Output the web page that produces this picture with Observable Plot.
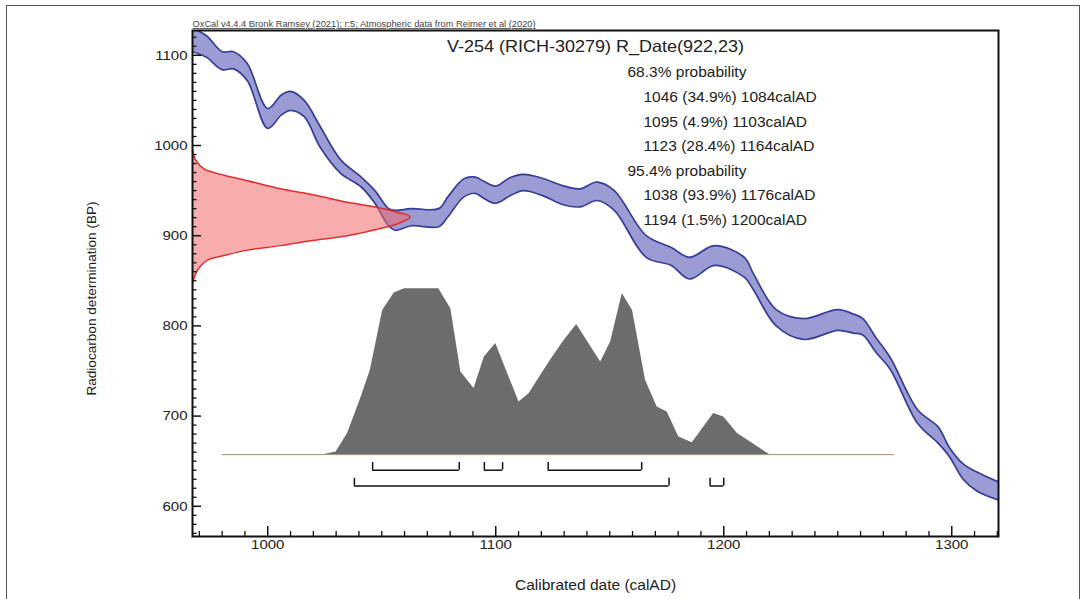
<!DOCTYPE html>
<html><head><meta charset="utf-8">
<script src="https://cdn.jsdelivr.net/npm/d3@7"></script>
<script src="https://cdn.jsdelivr.net/npm/@observablehq/plot@0.6"></script>
<style>
body{margin:0;background:#fff;}
#wrap{position:relative;width:1080px;height:599px;overflow:hidden;background:#fff;}
#border{position:absolute;left:6px;top:5px;width:1074px;height:640px;border:1px solid #555;box-sizing:border-box;}
#wrap svg{position:absolute;left:0;top:0;}
</style></head><body><div id="wrap"><div id="border"></div></div>
<script>
// Calibration curve band (IntCal20)
const curveYear = [967,973,980,985,991,1000,1006,1010,1016,1023,1032,1041,1047,1053,1056,1063,1075,1079,1086,1091,1095,1100,1106,1112,1120,1130,1137,1144.5,1152,1166,1177,1185,1196,1209,1213,1223,1235,1250,1257,1261,1267,1273,1285,1294,1299,1305,1311,1320.5];
const curveUpper = [1130,1122,1104,1104,1091,1041,1056,1060,1050,1021,984,965,950,930,928,930,930,943,963,965,960,955,964,968,964,955,952,959.5,950,900,887,876,889,876,858,818,808,818,813,808,786,765,707,688,665,647,638,627];
const curveLower = [1104,1098,1084,1085,1072,1019,1034,1039,1032,998,969,954,936,911,906,911,910,921,943,947,941,936,944,950,945,934,932,939,928,876,867,852,867,854,840,800,785,795,792,790,770,752,692,670,655,630,617,607];

// Radiocarbon measurement likelihood (relative), along the BP axis
const likeBP  = [995,984,974,967,961,952,945,937,932,926,921,913,908,900,895,889,884,878,873,862,847];
const likeRel = [0,0.014,0.053,0.145,0.252,0.404,0.558,0.711,0.833,0.940,1,0.940,0.862,0.711,0.558,0.404,0.252,0.145,0.069,0.023,0];

// Calibrated distribution (relative probability)
const postYear = [1025,1030,1035,1041,1045,1050.4,1055.5,1060,1075,1080.3,1084.7,1090.5,1095,1100,1110.2,1114.6,1124,1130,1135.5,1146,1150.4,1155.5,1160,1165.7,1170.8,1175.2,1180.3,1186.2,1195.6,1200,1206,1211.7,1220];
const postRel  = [0,0.016,0.127,0.347,0.508,0.869,0.973,1,1,0.879,0.498,0.398,0.588,0.669,0.317,0.367,0.568,0.688,0.784,0.558,0.678,0.970,0.869,0.448,0.287,0.256,0.106,0.072,0.247,0.227,0.127,0.076,0];
const postRange = [980, 1275];

// Ranges [from, to, percent]
const ranges68 = [[1046,1084,34.9],[1095,1103,4.9],[1123,1164,28.4]];
const ranges95 = [[1038,1176,93.9],[1194,1200,1.5]];

const xTicks = [1000,1100,1200,1300];
const yTicks = [600,700,800,900,1000,1100];

const titleText = "V-254 (RICH-30279) R_Date(922,23)";
const headerText = "OxCal v4.4.4 Bronk Ramsey (2021); r:5; Atmospheric data from Reimer et al (2020)";
const xLabel = "Calibrated date (calAD)";
const yLabel = "Radiocarbon determination (BP)";

// ---- build tables
const xDomain = [967, 1320.5];
const yDomain = [566.5, 1127.5];
const curve = curveYear.map((x,i)=>({x, hi:curveUpper[i], lo:curveLower[i]}));
const redW = 95.5;      // horizontal extent of the likelihood (years)
const like = likeBP.map((y,i)=>({y, w: xDomain[0] + likeRel[i]*redW}));
const postBase = 657.3, postH = 184;
const post = postYear.map((x,i)=>({x, top: postBase + postRel[i]*postH}));
const lvl68 = 640, lvl95 = 622.5, tickH = 8.5;

const W = 1080, H = 599, mL = 192, mR = 82, mT = 30, mB = 63;
const pw = W - mL - mR, ph = H - mT - mB;

const lines = [{t:"68.3% probability", ind:false}]
  .concat(ranges68.map(r=>({t:`${r[0]} (${r[2]}%) ${r[1]}calAD`, ind:true})))
  .concat([{t:"95.4% probability", ind:false}])
  .concat(ranges95.map(r=>({t:`${r[0]} (${r[2]}%) ${r[1]}calAD`, ind:true})));

const textMarks = lines.map((l,i)=>Plot.text([l.t], {
  frameAnchor:"top-left", dx: l.ind ? 451 : 435, dy: 42.5 + i*24.6,
  textAnchor:"start", lineAnchor:"middle", fontSize:15.5, fill:"#222"
}));

const minorX = d3.range(970, 1321, 10).filter(v=>v%100!==0);
const minorY = d3.range(570, 1128, 10).filter(v=>v%100!==0);
const smooth = "catmull-rom";

const chart = Plot.plot({
  width: W, height: H,
  marginLeft: mL, marginRight: mR, marginTop: mT, marginBottom: mB,
  style: {fontFamily: "'Liberation Sans', Arial, Helvetica, sans-serif", fontSize: "15px", color: "#222", background: "transparent"},
  x: {domain: xDomain},
  y: {domain: yDomain},
  marks: [
    Plot.areaY(curve, {x:"x", y1:"lo", y2:"hi", fill:"#9c9cd4", clip:true, curve: smooth}),
    Plot.lineY(curve, {x:"x", y:"hi", stroke:"#353d98", strokeWidth:1.7, clip:true, curve: smooth}),
    Plot.lineY(curve, {x:"x", y:"lo", stroke:"#353d98", strokeWidth:1.7, clip:true, curve: smooth}),
    Plot.areaX(like, {y:"y", x1: xDomain[0], x2:"w", fill:"#f06a6a", fillOpacity:0.55, curve: smooth}),
    Plot.lineX(like, {y:"y", x:"w", stroke:"#e22a2a", strokeWidth:1.5, curve: smooth}),
    Plot.ruleY([postBase], {x1: postRange[0], x2: postRange[1], stroke:"#a08a82", strokeWidth:1}),
    Plot.areaY(post, {x:"x", y1: postBase, y2:"top", fill:"#6b6c6c"}),
    // range brackets
    Plot.ruleY(ranges68, {y: lvl68, x1: d=>d[0], x2: d=>d[1], stroke:"#111", strokeWidth:1.5}),
    Plot.ruleX(ranges68.flatMap(d=>[d[0],d[1]]), {x: d=>d, y1: lvl68, y2: lvl68+tickH, stroke:"#111", strokeWidth:1.5}),
    Plot.ruleY(ranges95, {y: lvl95, x1: d=>d[0], x2: d=>d[1], stroke:"#111", strokeWidth:1.5}),
    Plot.ruleX(ranges95.flatMap(d=>[d[0],d[1]]), {x: d=>d, y1: lvl95, y2: lvl95+tickH, stroke:"#111", strokeWidth:1.5}),
    // ticks (inward)
    Plot.tickX(minorX, {x: d=>d, insetTop: ph-5, stroke:"#111", strokeWidth:1.3}),
    Plot.tickX(xTicks, {x: d=>d, insetTop: ph-10, stroke:"#111", strokeWidth:1.5}),
    Plot.tickY(minorY, {y: d=>d, insetRight: pw-4.5, stroke:"#111", strokeWidth:1.3}),
    Plot.tickY(yTicks, {y: d=>d, insetRight: pw-9, stroke:"#111", strokeWidth:1.5}),
    Plot.axisX({ticks: xTicks, tickSize: 0, tickPadding: 3, tickFormat: d=>String(d), label: null, fontSize: 15}),
    Plot.axisY({ticks: yTicks, tickSize: 0, tickPadding: 5, tickFormat: d=>String(d), label: null, fontSize: 15}),
    Plot.frame({stroke:"#111", strokeWidth:2}),
    Plot.text([xLabel], {frameAnchor:"bottom", dy: 49, lineAnchor:"middle", fontSize: 15.5, fill:"#222"}),
    Plot.text([yLabel], {frameAnchor:"left", dx: -101, dy: 15, rotate: -90, textAnchor:"middle", lineAnchor:"middle", fontSize: 13.6, fill:"#222"}),
    Plot.text([titleText], {frameAnchor:"top", dy: 16, lineAnchor:"middle", fontSize: 18, fill:"#222"}),
    Plot.text([headerText], {frameAnchor:"top-left", dy: -6, textAnchor:"start", lineAnchor:"middle", fontSize: 9.3, fill:"#444"}),
    ...textMarks
  ]
});
document.getElementById("wrap").appendChild(chart);
d3.select(chart).selectAll("text").filter(function(){ return this.textContent === headerText; })
  .style("text-decoration", "underline");
// the original picture is horizontally stretched: keep text widths, reduce glyph height
const stretch = 1.12;
d3.select(chart).selectAll("text").each(function(){
  if (this.textContent === yLabel) return;
  const w = this.getComputedTextLength();
  const fs = parseFloat(getComputedStyle(this).fontSize);
  if (!w || !fs) return;
  this.style.fontSize = (fs / stretch) + "px";
  this.setAttribute("textLength", w);
  this.setAttribute("lengthAdjust", "spacingAndGlyphs");
});
</script>
</body></html>
